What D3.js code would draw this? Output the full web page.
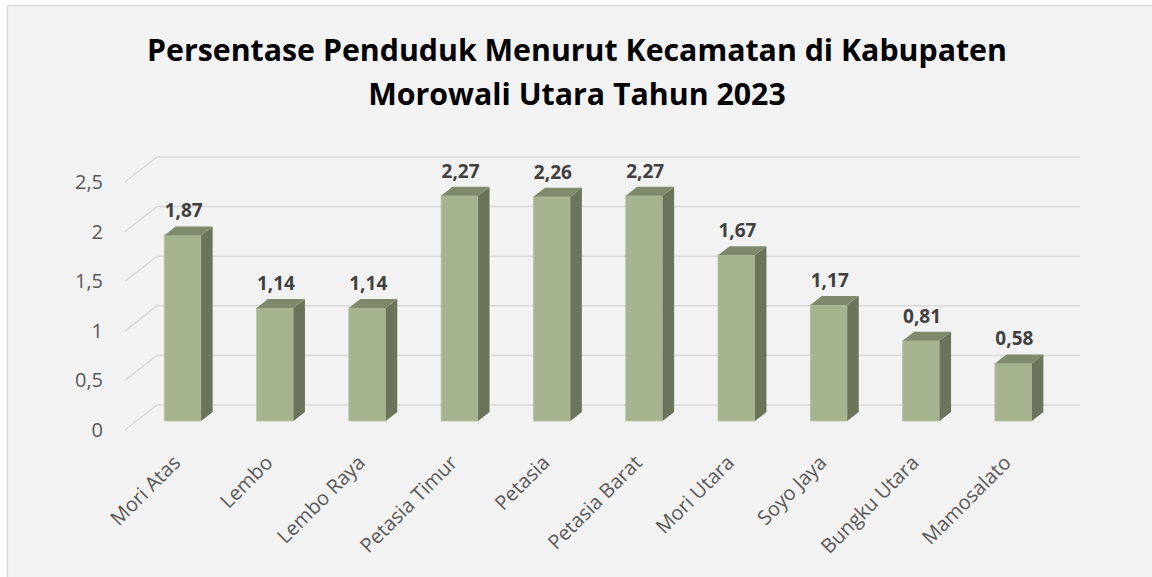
<!DOCTYPE html>
<html>
<head>
<meta charset="utf-8">
<style>
  body { margin: 0; background: #fff; }
  svg { display: block; }
  text { font-family: "Open Sans", sans-serif; }
</style>
</head>
<body>
<svg id="chart"></svg>
<script src="https://d3js.org/d3.v7.min.js"></script>
<script>
// data
var kecamatan = ["Mori Atas", "Lembo", "Lembo Raya", "Petasia Timur", "Petasia",
                 "Petasia Barat", "Mori Utara", "Soyo Jaya", "Bungku Utara", "Mamosalato"];
var persen = [1.87, 1.14, 1.14, 2.27, 2.26, 2.27, 1.67, 1.17, 0.81, 0.58];
var yTicks = [0, 0.5, 1, 1.5, 2, 2.5];
var titleLines = ["Persentase Penduduk Menurut Kecamatan di Kabupaten",
                  "Morowali Utara Tahun 2023"];

var W = 1152, H = 577;
var DX = 32, DY = 25;          // depth of the 3d box
var f0 = 0.36, f1 = 0.72;      // bar depth range (fraction of wall depth)

var svg = d3.select("#chart").attr("width", W).attr("height", H);

svg.append("rect")
    .attr("x", 7.5).attr("y", 5.5)
    .attr("width", W + 10).attr("height", H + 10)
    .attr("fill", "#f2f2f2")
    .attr("stroke", "#d9d9d9").attr("stroke-width", 1.5);

var x = d3.scaleBand().domain(kecamatan).range([125, 1048])
    .paddingInner(0.6).paddingOuter(0.3);
var y = d3.scaleLinear().domain([0, 2.5]).range([430, 182]);

function fmt(v) { return String(v).replace(".", ","); }

// gridlines: side wall diagonal + back wall
var grid = svg.append("g").attr("fill", "none")
    .attr("stroke", "#d9d9d9").attr("stroke-width", 1.5);
yTicks.forEach(function(t) {
    grid.append("path")
        .attr("d", "M" + x.range()[0] + "," + y(t) +
                   "L" + (x.range()[0] + DX) + "," + (y(t) - DY) +
                   "L" + (x.range()[1] + DX) + "," + (y(t) - DY));
});

// y tick labels
svg.append("g").selectAll("text")
    .data(yTicks).enter().append("text")
    .attr("x", 103).attr("y", function(d) { return y(d); })
    .attr("dy", "0.35em")
    .attr("text-anchor", "end")
    .attr("fill", "#595959")
    .attr("font-size", 20)
    .text(function(d) { return fmt(d); });

// bars
var bw = x.bandwidth();
var ox = f0 * DX, oy = f0 * DY;
var dx = (f1 - f0) * DX, dy = (f1 - f0) * DY;

var bar = svg.append("g").selectAll("g")
    .data(kecamatan).enter().append("g");

bar.each(function(k, i) {
    var g = d3.select(this);
    var x0 = x(k) + ox, x1 = x0 + bw;
    var yb = y(0) - oy, yt = y(persen[i]) - oy;
    // front
    g.append("rect")
        .attr("x", x0).attr("y", yt)
        .attr("width", bw).attr("height", yb - yt)
        .attr("fill", "#a5b38f")
        .attr("stroke", "#b7c3a3").attr("stroke-width", 0.8);
    // side
    g.append("path")
        .attr("d", "M" + x1 + "," + yt + "L" + (x1 + dx) + "," + (yt - dy) +
                   "L" + (x1 + dx) + "," + (yb - dy) + "L" + x1 + "," + yb + "Z")
        .attr("fill", "#6a745a");
    // top
    g.append("path")
        .attr("d", "M" + x0 + "," + yt + "L" + (x0 + dx) + "," + (yt - dy) +
                   "L" + (x1 + dx) + "," + (yt - dy) + "L" + x1 + "," + yt + "Z")
        .attr("fill", "#7f896b");
    // value label
    g.append("text")
        .attr("x", x0 + bw / 2 + 1).attr("y", yt - dy - 9)
        .attr("text-anchor", "middle")
        .attr("font-size", 19).attr("font-weight", "bold")
        .attr("fill", "#404040")
        .text(fmt(persen[i]));
});

// x labels
svg.append("g").selectAll("text")
    .data(kecamatan).enter().append("text")
    .attr("transform", function(d) {
        return "translate(" + (x(d) + ox + bw / 2 - 1) + ",464) rotate(-45)";
    })
    .attr("text-anchor", "end")
    .attr("fill", "#595959")
    .attr("font-size", 20)
    .text(function(d) { return d; });

// title
var title = svg.append("g").selectAll("text")
    .data(titleLines).enter().append("text")
    .attr("x", 577).attr("y", function(d, i) { return i === 0 ? 61 : 105; })
    .attr("text-anchor", "middle")
    .attr("font-weight", "bold")
    .attr("font-size", 32)
    .attr("fill", "#000")
    .text(function(d) { return d; });
var w0 = title.node().getComputedTextLength();
title.attr("font-size", 32 * 860 / w0);
</script>
</body>
</html>
